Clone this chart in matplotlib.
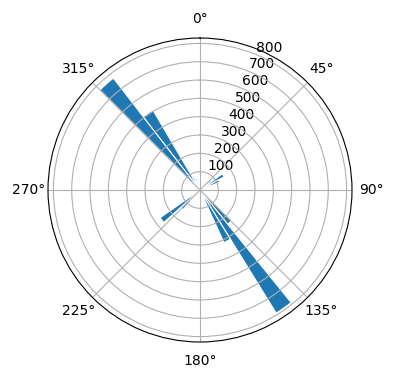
import numpy as np
import matplotlib
matplotlib.use("Agg")
import matplotlib.pyplot as plt

# ── Data ──────────────────────────────────────────────────────────────────────

# direction bins (degrees, clockwise from north)
FIRST_EDGE_DEG = 3.25
BIN_WIDTH_DEG = 7.25

counts = [
    20, 25, 40, 60, 55, 50, 80, 150,      # 3.25 .. 54
    115, 30, 15, 10, 8, 10, 15, 25,       # 61.25 .. 112
    40, 60, 240, 790, 315, 60, 30, 15,    # 119.25 .. 170
    10, 12, 30, 45, 50, 40, 140, 265,     # 177.25 .. 228
    40, 20, 10, 8, 8, 10, 20, 30,         # 235.25 .. 286
    45, 50, 60, 772, 505, 80, 70, 40,     # 293.25 .. 344
    25,                                   # 351.25
]

r_ticks = [100, 200, 300, 400, 500, 600, 700, 800]

# ──────────────────────────────────────────────────────────────────────────────

bin_start_deg = [FIRST_EDGE_DEG + i * BIN_WIDTH_DEG for i in range(len(counts))]

fig = plt.figure(figsize=(3.96, 3.80), dpi=100)
ax = fig.add_axes([48 / 396, 38 / 380, 304 / 396, 304 / 380], projection="polar")
ax.set_theta_zero_location("N")
ax.set_theta_direction(-1)

ax.bar(np.deg2rad(bin_start_deg), counts, width=np.deg2rad(BIN_WIDTH_DEG),
       align="edge", color="C0", edgecolor="white", linewidth=0.8)

ax.set_rticks(r_ticks)

fig.savefig("out.png", dpi=100)
